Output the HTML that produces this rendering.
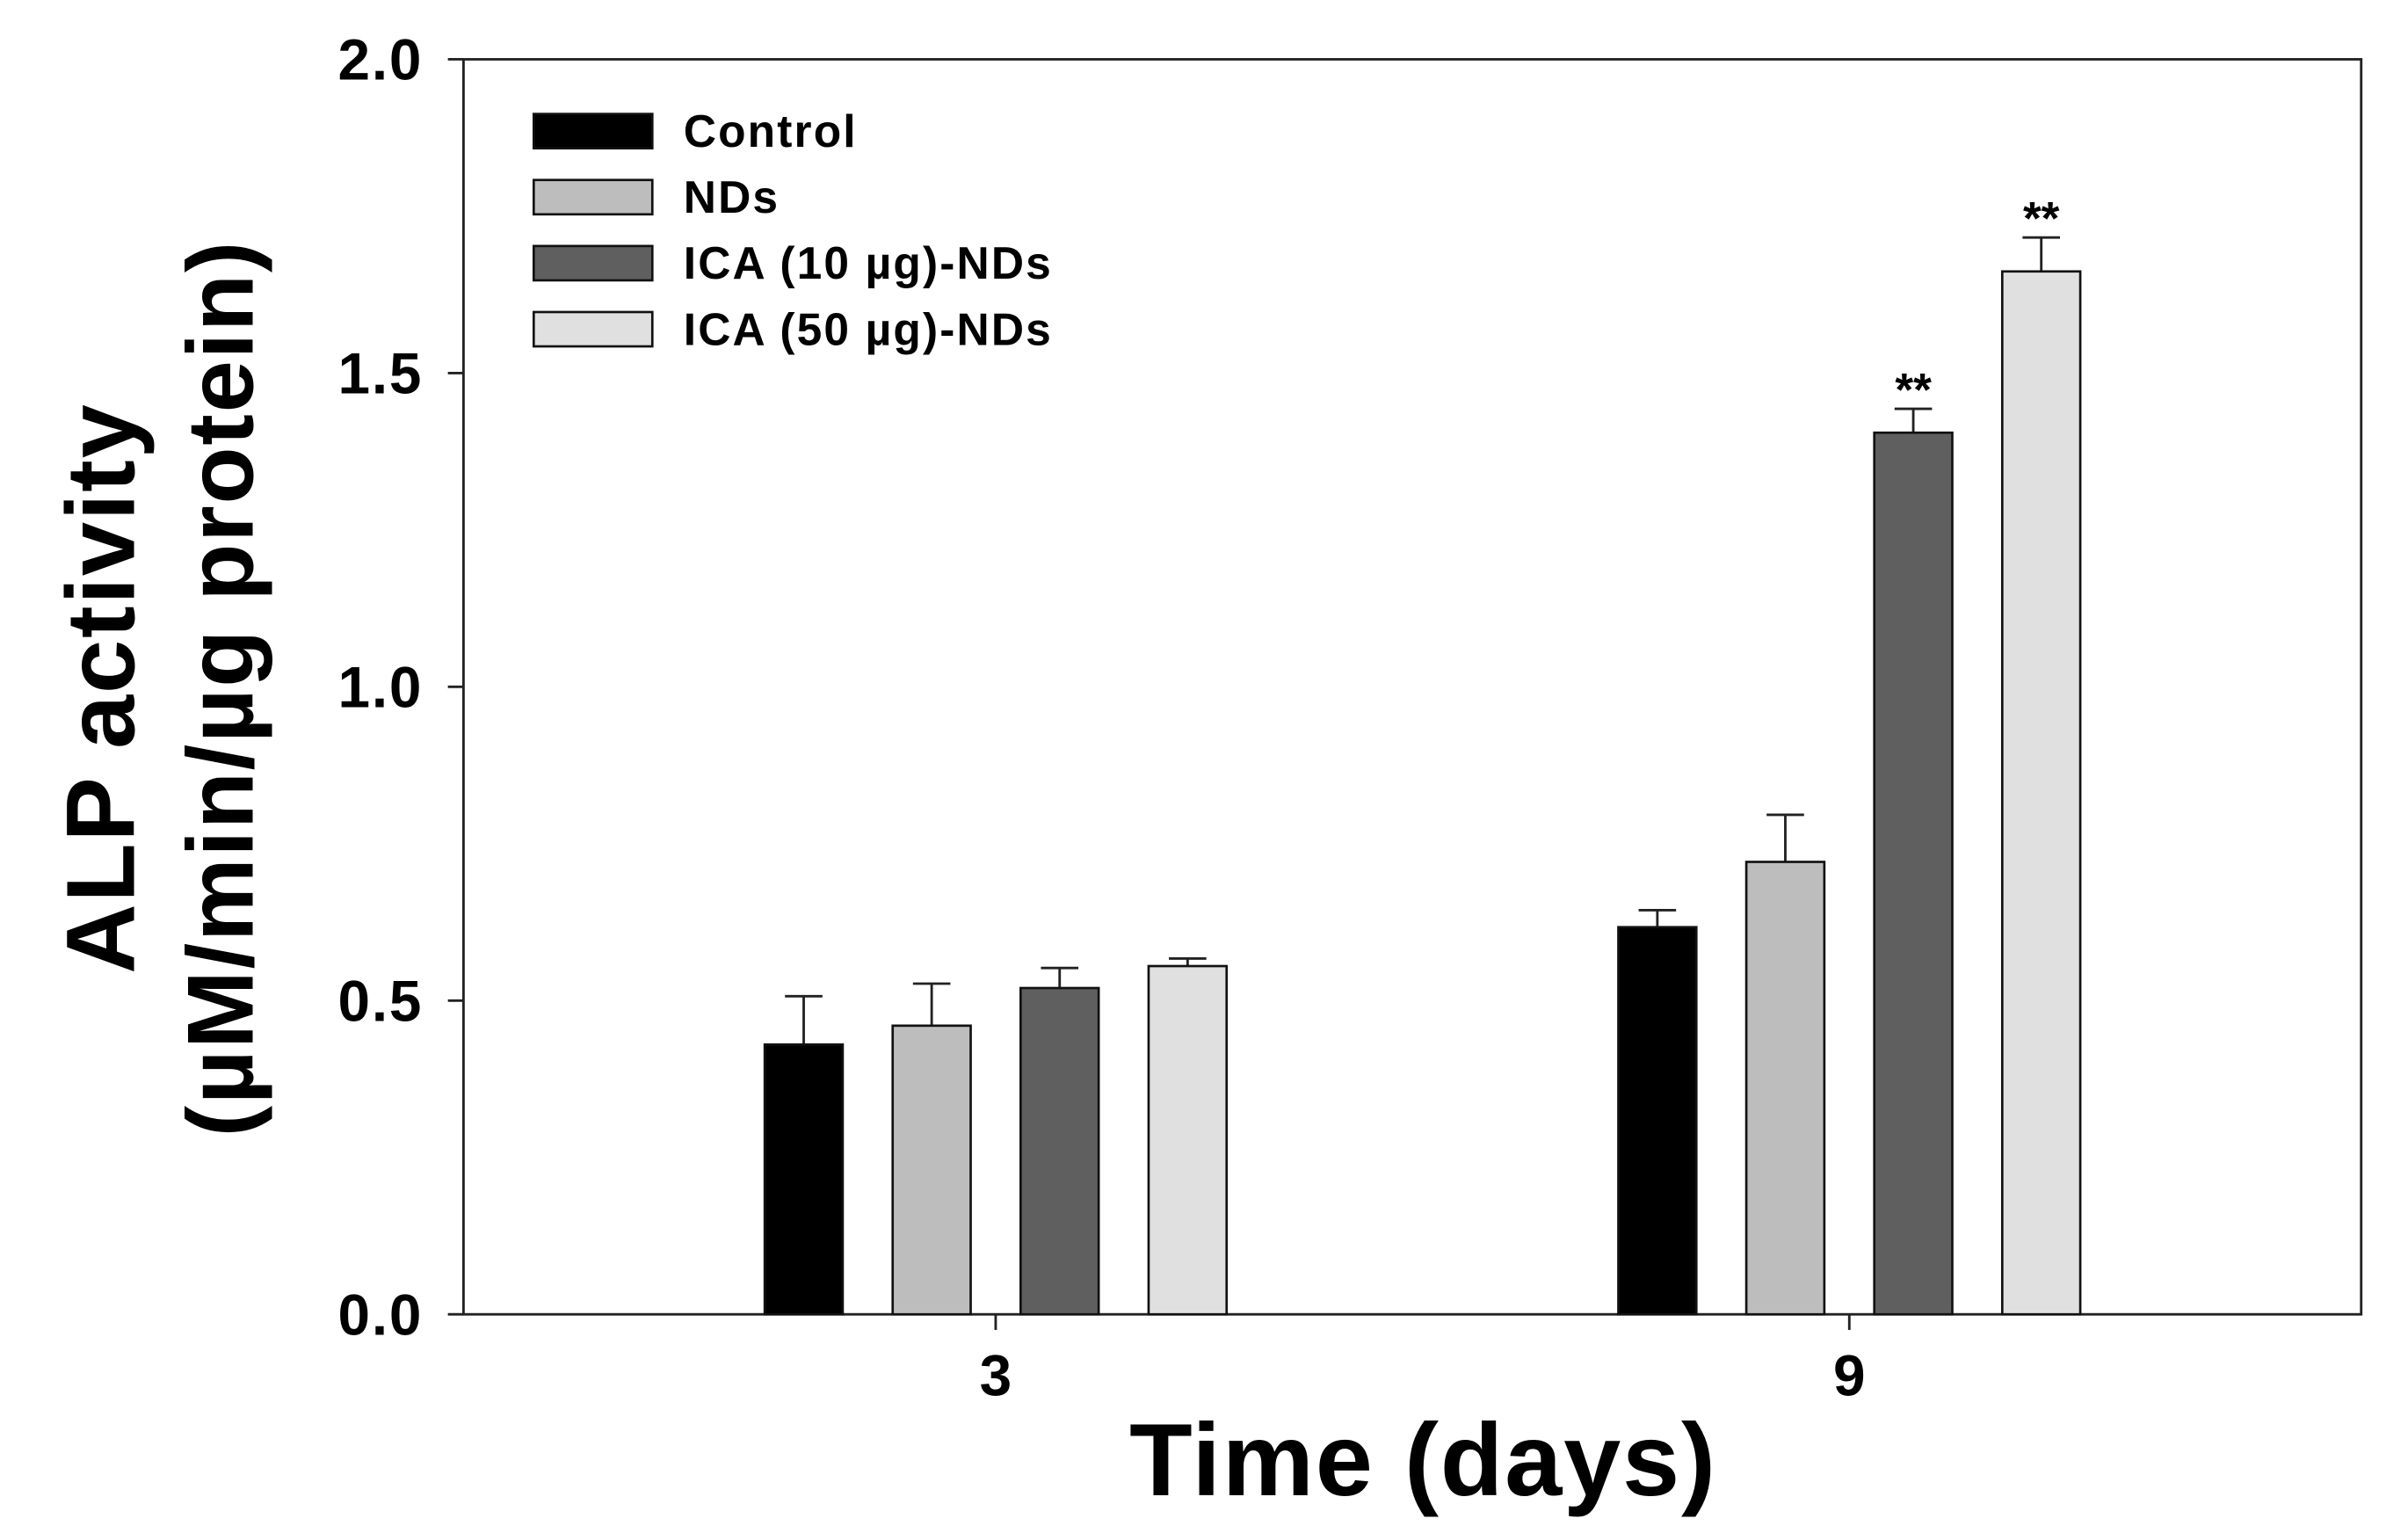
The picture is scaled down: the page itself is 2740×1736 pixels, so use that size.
<!DOCTYPE html>
<html><head><meta charset="utf-8"><style>
html,body{margin:0;padding:0;background:#fff;}
svg{display:block;font-family:"Liberation Sans",Arial,sans-serif;font-weight:bold;}
</style></head><body>
<svg id="chart" width="2740" height="1736" viewBox="0 0 1543 977.6" preserveAspectRatio="none" xmlns="http://www.w3.org/2000/svg">
<g id="axes"></g>
<g id="bars"></g>
<g id="legend"></g>
<text x="912" y="958" font-size="66" text-anchor="middle" letter-spacing="1">Time (days)</text>
<text transform="translate(86,441) rotate(-90)" font-size="62" text-anchor="middle" letter-spacing="1">ALP activity</text>
<text transform="translate(162,441) rotate(-90)" font-size="60" text-anchor="middle" letter-spacing="1">(µM/min/µg protein)</text>
</svg>
<script>
const categories = ["3", "9"];
const seriesNames = ["Control", "NDs", "ICA (10 µg)-NDs", "ICA (50 µg)-NDs"];
const seriesColors = ["#000000", "#bdbdbd", "#5f5f5f", "#e0e0e0"];
const controlVals = [0.43, 0.617];
const ndsVals = [0.46, 0.721];
const ica10Vals = [0.52, 1.405];
const ica50Vals = [0.555, 1.662];
const controlErr = [0.077, 0.027];
const ndsErr = [0.067, 0.075];
const ica10Err = [0.032, 0.038];
const ica50Err = [0.012, 0.054];
const sigMarks = [["", ""], ["", ""], ["", "**"], ["", "**"]];
const yTicks = [0.0, 0.5, 1.0, 1.5, 2.0];
const yTickLabels = ["0.0", "0.5", "1.0", "1.5", "2.0"];

const NS = "http://www.w3.org/2000/svg";
const L = 297, R = 1513, T = 38, B = 842;
const yMax = 2.0;
function yScale(v) { return B - (v / yMax) * (B - T); }
const groupCenters = [638, 1185];
function xGroup(i) { return groupCenters[i]; }
const barW = 50, barStep = 82;
function mk(tag, attrs, parent) {
  const e = document.createElementNS(NS, tag);
  for (const k in attrs) e.setAttribute(k, attrs[k]);
  parent.appendChild(e);
  return e;
}
const axes = document.getElementById("axes");
const bars = document.getElementById("bars");
const legend = document.getElementById("legend");

let frame = mk("rect", {x: L, y: T, width: R - L, height: B - T, fill: "none", stroke: "#222", "stroke-width": 1.6}, axes);



yTicks.forEach((v, i) => {
  const y = yScale(v);
  let t = mk("line", {x1: L - 10, x2: L, y1: y, y2: y, stroke: "#222", "stroke-width": 1.6}, axes);
  
  
  let lb = mk("text", {x: 271, y: y + 13, "font-size": 37, "text-anchor": "end", "letter-spacing": 1}, axes);
  lb.textContent = yTickLabels[i];
  
  
});
categories.forEach((c, i) => {
  const x = xGroup(i);
  let t = mk("line", {x1: x, x2: x, y1: B, y2: B + 10, stroke: "#222", "stroke-width": 1.6}, axes);
  
  
  let lb = mk("text", {x: x, y: B + 52, "font-size": 37, "text-anchor": "middle"}, axes);
  lb.textContent = c;
  
  
});

const allVals = [controlVals, ndsVals, ica10Vals, ica50Vals];
const allErr = [controlErr, ndsErr, ica10Err, ica50Err];
categories.forEach((c, gi) => {
  allVals.forEach((vals, si) => {
    const cx = xGroup(gi) + (si - 1.5) * barStep;
    const v = vals[gi], e = allErr[si][gi];
    const yt = yScale(v), ye = yScale(v + e);
    let eb = mk("line", {x1: cx, x2: cx, y1: yt, y2: ye, stroke: "#222", "stroke-width": 1.6}, bars);
    
    
    let cap = mk("line", {x1: cx - 12, x2: cx + 12, y1: ye, y2: ye, stroke: "#222", "stroke-width": 1.6}, bars);
    
    
    let r = mk("rect", {x: cx - barW / 2, y: yt, width: barW, height: B - yt, fill: seriesColors[si], stroke: "#111", "stroke-width": 1.5}, bars);
    
    
    if (sigMarks[si][gi]) {
      let s = mk("text", {x: cx, y: ye - 2, "font-size": 30, "text-anchor": "middle"}, bars);
      s.textContent = sigMarks[si][gi];
      
      
    }
  });
});

seriesNames.forEach((n, i) => {
  const yc = 84 + i * 42.3;
  let sw = mk("rect", {x: 342, y: yc - 11, width: 76, height: 22, fill: seriesColors[i], stroke: "#111", "stroke-width": 1.5}, legend);
  
  
  let tx = mk("text", {x: 438, y: yc + 10, "font-size": 29, "letter-spacing": 1.2}, legend);
  tx.textContent = n;
  
  
});
</script>
</body></html>
